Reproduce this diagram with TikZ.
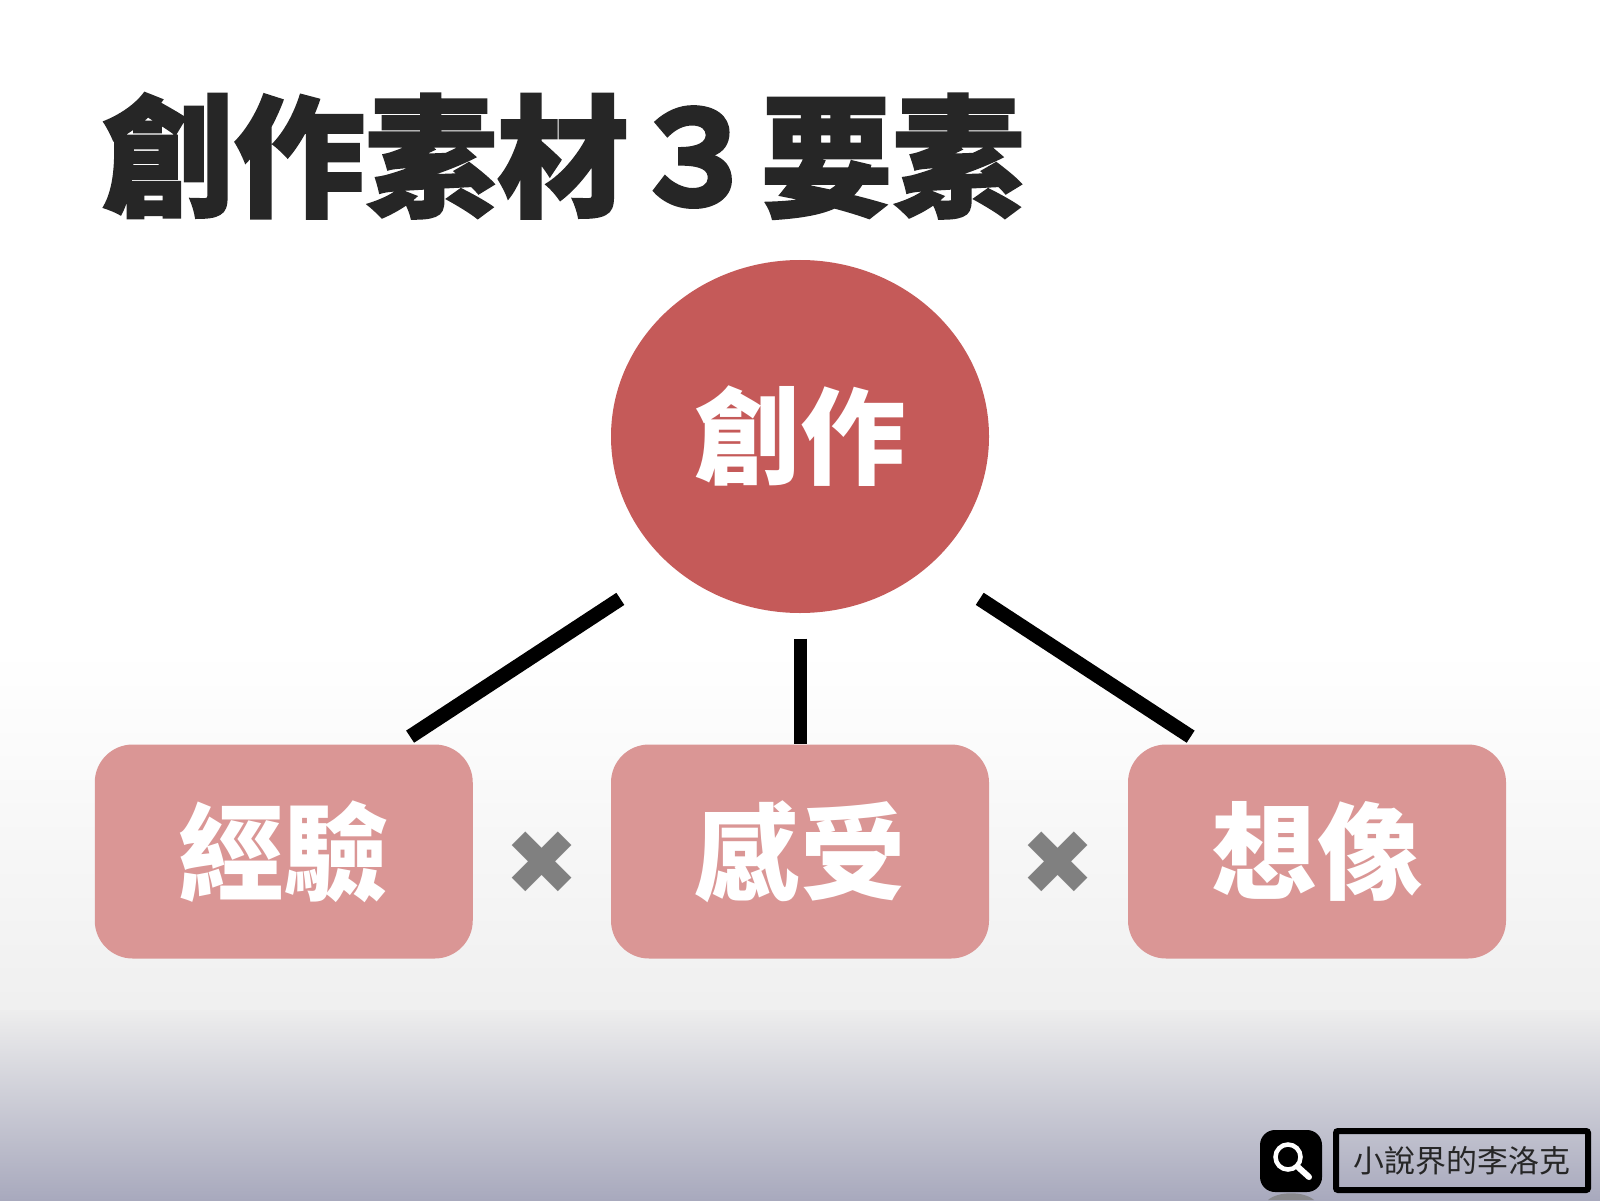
\documentclass[tikz,border=0pt]{standalone}
\usepackage{fontspec}
\usetikzlibrary{shapes.geometric}
\newfontfamily\cjkfont{Noto Sans CJK TC}
\newfontfamily\titlefont[BoldFeatures={FakeBold=1.5}]{Noto Sans CJK TC}
\newfontfamily\symfont{DejaVu Sans}
\definecolor{maincolor}{HTML}{C55A59}
\definecolor{subcolor}{HTML}{DA9695}
\definecolor{titlecolor}{HTML}{262626}
\definecolor{timescolor}{HTML}{808080}
\definecolor{baseblue}{HTML}{A8A9BD}
\tikzset{
    subbox/.style={draw=none, fill=subcolor, rounded corners=3.8mm, minimum width=3.78cm, minimum height=2.14cm, inner sep=0pt, text=white, font=\cjkfont\bfseries\fontsize{30}{30}\selectfont},
    link/.style={line width=1.3mm, black},
    sidelink/.style={line width=1.45mm, black, shorten <=6mm, shorten >=1.3mm},
    timesmark/.style={text=timescolor, inner sep=0pt, font=\symfont\fontsize{25.5}{25.5}\selectfont}
}
\begin{document}
\begin{tikzpicture}
    \useasboundingbox (0,0) rectangle (16,12);
    \fill[white] (0,5.5) rectangle (16,12);
    \shade[top color=white, bottom color=black!6] (0,1.9) rectangle (16,5.5);
    \shade[top color=black!7, bottom color=baseblue] (0,0) rectangle (16,1.9);

    \node[titlecolor, inner sep=0pt, font=\titlefont\bfseries\fontsize{37.5}{37.5}\selectfont] (title) at (5.63,10.44) {創作素材３要素};

    \node[ellipse, fill=maincolor, minimum width=3.78cm, minimum height=3.53cm, inner sep=0pt, text=white, font=\cjkfont\bfseries\fontsize{30}{30}\selectfont] (create) at (8,7.635) {創作};
    \node[subbox] (exp) at (2.8375,3.485) {經驗};
    \node[subbox] (feel) at (8,3.485) {感受};
    \node[subbox] (imag) at (13.17,3.485) {想像};

    \draw[sidelink] (create.225) -- (exp.43);
    \draw[link, shorten <=2.5mm] (create.south) -- (feel.north);
    \draw[sidelink] (create.-45) -- (imag.137);

    \node[timesmark] (times1) at (5.42,3.37) {✖};
    \node[timesmark] (times2) at (10.585,3.37) {✖};

    \fill[black!50, opacity=0.8] (12.68,0) .. controls (12.78,0.09) and (13.04,0.09) .. (13.14,0) -- cycle;
    \node[fill=black, rounded corners=1.5mm, minimum size=6.2mm, inner sep=0pt] (icon) at (12.91,0.39) {};
    \node[draw=white, line width=0.45mm, circle, minimum size=2.5mm, inner sep=0pt] (lens) at (12.88,0.43) {};
    \coordinate (handle) at (13.09,0.23);
    \draw[white, line width=0.6mm, line cap=round] (lens.-45) -- (handle);
    \node[draw=black, line width=0.6mm, rounded corners=0.2mm, minimum width=2.52cm, minimum height=0.59cm, inner sep=0pt, text=titlecolor, font=\cjkfont\fontsize{8.8}{8.8}\selectfont] (name) at (14.62,0.395) {小說界的李洛克};
\end{tikzpicture}
\end{document}
